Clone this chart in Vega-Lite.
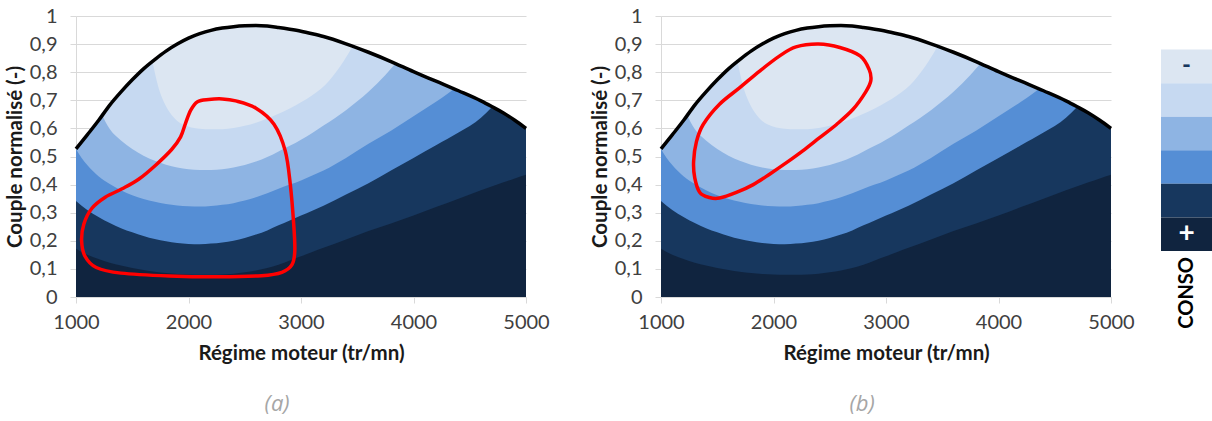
{
  "$schema": "https://vega.github.io/schema/vega-lite/v6.json",
  "padding": {"left": 5, "top": 6, "right": 0, "bottom": 0},
  "background": "white",
  "datasets": {
    "max": [
      {"x":1000,"y":0.527},{"x":1100,"y":0.577},{"x":1200,"y":0.628},{"x":1300,"y":0.683},{"x":1400,"y":0.73},{"x":1500,"y":0.773},{"x":1600,"y":0.812},{"x":1700,"y":0.845},{"x":1800,"y":0.875},{"x":1900,"y":0.9},{"x":2000,"y":0.921},{"x":2100,"y":0.937},{"x":2200,"y":0.949},{"x":2300,"y":0.957},{"x":2400,"y":0.962},{"x":2500,"y":0.965},{"x":2600,"y":0.966},{"x":2700,"y":0.964},{"x":2800,"y":0.959},{"x":2900,"y":0.953},{"x":3000,"y":0.946},{"x":3100,"y":0.937},{"x":3200,"y":0.927},{"x":3400,"y":0.901},{"x":3600,"y":0.871},{"x":3800,"y":0.838},{"x":4000,"y":0.802},{"x":4200,"y":0.768},{"x":4400,"y":0.734},{"x":4600,"y":0.698},{"x":4700,"y":0.677},{"x":4800,"y":0.655},{"x":4900,"y":0.629},{"x":5000,"y":0.6}
    ],
    "bands": [
      {"band":5,"x":1000,"y":0.527,"y0":0.172},{"band":5,"x":1100,"y":0.577,"y0":0.15},{"band":5,"x":1200,"y":0.628,"y0":0.135},{"band":5,"x":1300,"y":0.683,"y0":0.122},{"band":5,"x":1400,"y":0.73,"y0":0.112},{"band":5,"x":1500,"y":0.773,"y0":0.103},{"band":5,"x":1600,"y":0.812,"y0":0.096},{"band":5,"x":1700,"y":0.845,"y0":0.09},{"band":5,"x":1800,"y":0.875,"y0":0.085},{"band":5,"x":1900,"y":0.9,"y0":0.082},{"band":5,"x":2000,"y":0.921,"y0":0.08},{"band":5,"x":2100,"y":0.937,"y0":0.079},{"band":5,"x":2200,"y":0.949,"y0":0.079},{"band":5,"x":2300,"y":0.957,"y0":0.08},{"band":5,"x":2400,"y":0.962,"y0":0.083},{"band":5,"x":2500,"y":0.965,"y0":0.088},{"band":5,"x":2600,"y":0.966,"y0":0.094},{"band":5,"x":2700,"y":0.964,"y0":0.103},{"band":5,"x":2800,"y":0.959,"y0":0.115},{"band":5,"x":2900,"y":0.953,"y0":0.13},{"band":5,"x":3000,"y":0.946,"y0":0.145},{"band":5,"x":3100,"y":0.937,"y0":0.16},{"band":5,"x":3200,"y":0.927,"y0":0.175},{"band":5,"x":3400,"y":0.901,"y0":0.205},{"band":5,"x":3600,"y":0.871,"y0":0.235},{"band":5,"x":3800,"y":0.838,"y0":0.262},{"band":5,"x":4000,"y":0.802,"y0":0.29},{"band":5,"x":4200,"y":0.768,"y0":0.32},{"band":5,"x":4400,"y":0.734,"y0":0.35},{"band":5,"x":4600,"y":0.698,"y0":0.38},{"band":5,"x":4700,"y":0.677,"y0":0.394},{"band":5,"x":4800,"y":0.655,"y0":0.408},{"band":5,"x":4900,"y":0.629,"y0":0.422},{"band":5,"x":5000,"y":0.6,"y0":0.435},

      {"band":4,"x":1000,"y":0.527,"y0":0.342},{"band":4,"x":1100,"y":0.577,"y0":0.31},{"band":4,"x":1200,"y":0.628,"y0":0.285},{"band":4,"x":1300,"y":0.683,"y0":0.263},{"band":4,"x":1400,"y":0.73,"y0":0.245},{"band":4,"x":1500,"y":0.773,"y0":0.23},{"band":4,"x":1600,"y":0.812,"y0":0.217},{"band":4,"x":1700,"y":0.845,"y0":0.206},{"band":4,"x":1800,"y":0.875,"y0":0.198},{"band":4,"x":1900,"y":0.9,"y0":0.192},{"band":4,"x":2000,"y":0.921,"y0":0.189},{"band":4,"x":2100,"y":0.937,"y0":0.188},{"band":4,"x":2200,"y":0.949,"y0":0.19},{"band":4,"x":2300,"y":0.957,"y0":0.194},{"band":4,"x":2400,"y":0.962,"y0":0.2},{"band":4,"x":2500,"y":0.965,"y0":0.21},{"band":4,"x":2600,"y":0.966,"y0":0.222},{"band":4,"x":2700,"y":0.964,"y0":0.237},{"band":4,"x":2800,"y":0.959,"y0":0.255},{"band":4,"x":2900,"y":0.953,"y0":0.272},{"band":4,"x":3000,"y":0.946,"y0":0.29},{"band":4,"x":3100,"y":0.937,"y0":0.307},{"band":4,"x":3200,"y":0.927,"y0":0.325},{"band":4,"x":3400,"y":0.901,"y0":0.365},{"band":4,"x":3600,"y":0.871,"y0":0.405},{"band":4,"x":3800,"y":0.838,"y0":0.45},{"band":4,"x":4000,"y":0.802,"y0":0.495},{"band":4,"x":4200,"y":0.768,"y0":0.54},{"band":4,"x":4400,"y":0.734,"y0":0.585},{"band":4,"x":4600,"y":0.698,"y0":0.638},{"band":4,"x":4700,"y":0.677,"y0":0.677},

      {"band":3,"x":1000,"y":0.527,"y0":0.527},{"band":3,"x":1050,"y":0.552,"y0":0.495},{"band":3,"x":1100,"y":0.577,"y0":0.47},{"band":3,"x":1200,"y":0.628,"y0":0.43},{"band":3,"x":1300,"y":0.683,"y0":0.402},{"band":3,"x":1400,"y":0.73,"y0":0.38},{"band":3,"x":1500,"y":0.773,"y0":0.362},{"band":3,"x":1600,"y":0.812,"y0":0.349},{"band":3,"x":1700,"y":0.845,"y0":0.339},{"band":3,"x":1800,"y":0.875,"y0":0.331},{"band":3,"x":1900,"y":0.9,"y0":0.326},{"band":3,"x":2000,"y":0.921,"y0":0.323},{"band":3,"x":2100,"y":0.937,"y0":0.322},{"band":3,"x":2200,"y":0.949,"y0":0.324},{"band":3,"x":2300,"y":0.957,"y0":0.328},{"band":3,"x":2400,"y":0.962,"y0":0.334},{"band":3,"x":2500,"y":0.965,"y0":0.343},{"band":3,"x":2600,"y":0.966,"y0":0.355},{"band":3,"x":2700,"y":0.964,"y0":0.369},{"band":3,"x":2800,"y":0.959,"y0":0.385},{"band":3,"x":2900,"y":0.953,"y0":0.4},{"band":3,"x":3000,"y":0.946,"y0":0.415},{"band":3,"x":3100,"y":0.937,"y0":0.432},{"band":3,"x":3200,"y":0.927,"y0":0.45},{"band":3,"x":3400,"y":0.901,"y0":0.495},{"band":3,"x":3600,"y":0.871,"y0":0.545},{"band":3,"x":3800,"y":0.838,"y0":0.592},{"band":3,"x":4000,"y":0.802,"y0":0.643},{"band":3,"x":4200,"y":0.768,"y0":0.695},{"band":3,"x":4300,"y":0.751,"y0":0.722},{"band":3,"x":4360,"y":0.741,"y0":0.741},

      {"band":2,"x":1234,"y":0.646,"y0":0.646},{"band":2,"x":1260,"y":0.66,"y0":0.625},{"band":2,"x":1300,"y":0.683,"y0":0.598},{"band":2,"x":1400,"y":0.73,"y0":0.557},{"band":2,"x":1500,"y":0.773,"y0":0.527},{"band":2,"x":1600,"y":0.812,"y0":0.503},{"band":2,"x":1700,"y":0.845,"y0":0.485},{"band":2,"x":1800,"y":0.875,"y0":0.471},{"band":2,"x":1900,"y":0.9,"y0":0.461},{"band":2,"x":2000,"y":0.921,"y0":0.455},{"band":2,"x":2100,"y":0.937,"y0":0.452},{"band":2,"x":2200,"y":0.949,"y0":0.452},{"band":2,"x":2300,"y":0.957,"y0":0.455},{"band":2,"x":2400,"y":0.962,"y0":0.461},{"band":2,"x":2500,"y":0.965,"y0":0.47},{"band":2,"x":2600,"y":0.966,"y0":0.482},{"band":2,"x":2700,"y":0.964,"y0":0.498},{"band":2,"x":2800,"y":0.959,"y0":0.518},{"band":2,"x":2900,"y":0.953,"y0":0.538},{"band":2,"x":3000,"y":0.946,"y0":0.56},{"band":2,"x":3100,"y":0.937,"y0":0.584},{"band":2,"x":3200,"y":0.927,"y0":0.61},{"band":2,"x":3400,"y":0.901,"y0":0.665},{"band":2,"x":3600,"y":0.871,"y0":0.73},{"band":2,"x":3750,"y":0.847,"y0":0.79},{"band":2,"x":3840,"y":0.831,"y0":0.831},

      {"band":1,"x":1680,"y":0.838,"y0":0.838},{"band":1,"x":1700,"y":0.845,"y0":0.8},{"band":1,"x":1730,"y":0.855,"y0":0.75},{"band":1,"x":1780,"y":0.869,"y0":0.695},{"band":1,"x":1850,"y":0.888,"y0":0.648},{"band":1,"x":1950,"y":0.911,"y0":0.614},{"band":1,"x":2100,"y":0.937,"y0":0.599},{"band":1,"x":2200,"y":0.949,"y0":0.597},{"band":1,"x":2300,"y":0.957,"y0":0.597},{"band":1,"x":2400,"y":0.962,"y0":0.601},{"band":1,"x":2500,"y":0.965,"y0":0.609},{"band":1,"x":2600,"y":0.966,"y0":0.62},{"band":1,"x":2700,"y":0.964,"y0":0.635},{"band":1,"x":2800,"y":0.959,"y0":0.652},{"band":1,"x":2900,"y":0.953,"y0":0.671},{"band":1,"x":3000,"y":0.946,"y0":0.693},{"band":1,"x":3100,"y":0.937,"y0":0.718},{"band":1,"x":3250,"y":0.921,"y0":0.77},{"band":1,"x":3380,"y":0.904,"y0":0.84},{"band":1,"x":3460,"y":0.892,"y0":0.892}
    ],
    "loopA": [
      {"i":1,"x":2180,"y":0.703},{"i":2,"x":2300,"y":0.705},{"i":3,"x":2420,"y":0.698},{"i":4,"x":2600,"y":0.672},{"i":5,"x":2760,"y":0.615},{"i":6,"x":2860,"y":0.52},{"i":7,"x":2905,"y":0.4},{"i":8,"x":2935,"y":0.26},{"i":9,"x":2945,"y":0.165},{"i":10,"x":2920,"y":0.115},{"i":11,"x":2830,"y":0.088},{"i":12,"x":2650,"y":0.076},{"i":13,"x":2270,"y":0.072},{"i":14,"x":1830,"y":0.075},{"i":15,"x":1400,"y":0.085},{"i":16,"x":1180,"y":0.105},{"i":17,"x":1080,"y":0.145},{"i":18,"x":1050,"y":0.2},{"i":19,"x":1070,"y":0.26},{"i":20,"x":1140,"y":0.315},{"i":21,"x":1260,"y":0.355},{"i":22,"x":1410,"y":0.385},{"i":23,"x":1560,"y":0.42},{"i":24,"x":1710,"y":0.47},{"i":25,"x":1850,"y":0.525},{"i":26,"x":1930,"y":0.57},{"i":27,"x":1975,"y":0.62},{"i":28,"x":2020,"y":0.665},{"i":29,"x":2080,"y":0.695}
    ],
    "loopB": [
      {"i":1,"x":2400,"y":0.9},{"i":2,"x":2590,"y":0.888},{"i":3,"x":2770,"y":0.858},{"i":4,"x":2850,"y":0.81},{"i":5,"x":2865,"y":0.77},{"i":6,"x":2820,"y":0.73},{"i":7,"x":2707,"y":0.668},{"i":8,"x":2560,"y":0.614},{"i":9,"x":2410,"y":0.567},{"i":10,"x":2260,"y":0.52},{"i":11,"x":2115,"y":0.478},{"i":12,"x":1965,"y":0.437},{"i":13,"x":1820,"y":0.4},{"i":14,"x":1670,"y":0.372},{"i":15,"x":1520,"y":0.352},{"i":16,"x":1430,"y":0.354},{"i":17,"x":1345,"y":0.372},{"i":18,"x":1300,"y":0.424},{"i":19,"x":1290,"y":0.483},{"i":20,"x":1315,"y":0.553},{"i":21,"x":1375,"y":0.614},{"i":22,"x":1520,"y":0.686},{"i":23,"x":1700,"y":0.745},{"i":24,"x":1877,"y":0.804},{"i":25,"x":2055,"y":0.858},{"i":26,"x":2200,"y":0.89}
    ],
    "legend": [
      {"level":"1","sign":"-"},{"level":"2","sign":""},{"level":"3","sign":""},{"level":"4","sign":""},{"level":"5","sign":""},{"level":"6","sign":"+"}
    ]
  },
  "hconcat": [
    {
      "hconcat": [
        {
          "width": 450, "height": 281,
          "title": {"text": "(a)", "orient": "bottom", "frame": "bounds", "anchor": "middle", "fontSize": 22, "fontStyle": "italic", "fontWeight": "normal", "color": "#a6a6a6", "offset": 30, "font": "Open Sans"},
          "encoding": {
            "x": {"field": "x", "type": "quantitative", "scale": {"domain": [1000, 5000], "nice": false}, "axis": {"values": [1000, 2000, 3000, 4000, 5000], "format": "d", "title": "Régime moteur (tr/mn)"}},
            "y": {"field": "y", "type": "quantitative", "scale": {"domain": [0, 1], "nice": false}, "axis": {"values": [0, 0.1, 0.2, 0.3, 0.4, 0.5, 0.6, 0.7, 0.8, 0.9, 1], "labelExpr": "replace(format(datum.value, '.1~f'), '.', ',')", "title": "Couple normalisé (-)"}}
          },
          "layer": [
            {"data": {"name": "max"}, "mark": {"type": "area", "interpolate": "monotone", "color": "#10243f"}},
            {"data": {"name": "bands"}, "transform": [{"filter": "datum.band == 5"}], "mark": {"type": "area", "interpolate": "monotone", "color": "#17375e"}, "encoding": {"y2": {"field": "y0"}}},
            {"data": {"name": "bands"}, "transform": [{"filter": "datum.band == 4"}], "mark": {"type": "area", "interpolate": "monotone", "color": "#558ed5"}, "encoding": {"y2": {"field": "y0"}}},
            {"data": {"name": "bands"}, "transform": [{"filter": "datum.band == 3"}], "mark": {"type": "area", "interpolate": "monotone", "color": "#8eb4e3"}, "encoding": {"y2": {"field": "y0"}}},
            {"data": {"name": "bands"}, "transform": [{"filter": "datum.band == 2"}], "mark": {"type": "area", "interpolate": "monotone", "color": "#c6d9f1"}, "encoding": {"y2": {"field": "y0"}}},
            {"data": {"name": "bands"}, "transform": [{"filter": "datum.band == 1"}], "mark": {"type": "area", "interpolate": "monotone", "color": "#dce6f2"}, "encoding": {"y2": {"field": "y0"}}},
            {"data": {"name": "max"}, "mark": {"type": "line", "interpolate": "monotone", "color": "#000000", "strokeWidth": 3.5}},
            {"data": {"name": "loopA"}, "mark": {"type": "line", "interpolate": "cardinal-closed", "color": "#ff0000", "strokeWidth": 3.5}, "encoding": {"order": {"field": "i", "type": "quantitative"}}}
          ]
        },
        {
          "width": 450, "height": 281,
          "title": {"text": "(b)", "orient": "bottom", "frame": "bounds", "anchor": "middle", "fontSize": 22, "fontStyle": "italic", "fontWeight": "normal", "color": "#a6a6a6", "offset": 30, "font": "Open Sans"},
          "encoding": {
            "x": {"field": "x", "type": "quantitative", "scale": {"domain": [1000, 5000], "nice": false}, "axis": {"values": [1000, 2000, 3000, 4000, 5000], "format": "d", "title": "Régime moteur (tr/mn)"}},
            "y": {"field": "y", "type": "quantitative", "scale": {"domain": [0, 1], "nice": false}, "axis": {"values": [0, 0.1, 0.2, 0.3, 0.4, 0.5, 0.6, 0.7, 0.8, 0.9, 1], "labelExpr": "replace(format(datum.value, '.1~f'), '.', ',')", "title": "Couple normalisé (-)"}}
          },
          "layer": [
            {"data": {"name": "max"}, "mark": {"type": "area", "interpolate": "monotone", "color": "#10243f"}},
            {"data": {"name": "bands"}, "transform": [{"filter": "datum.band == 5"}], "mark": {"type": "area", "interpolate": "monotone", "color": "#17375e"}, "encoding": {"y2": {"field": "y0"}}},
            {"data": {"name": "bands"}, "transform": [{"filter": "datum.band == 4"}], "mark": {"type": "area", "interpolate": "monotone", "color": "#558ed5"}, "encoding": {"y2": {"field": "y0"}}},
            {"data": {"name": "bands"}, "transform": [{"filter": "datum.band == 3"}], "mark": {"type": "area", "interpolate": "monotone", "color": "#8eb4e3"}, "encoding": {"y2": {"field": "y0"}}},
            {"data": {"name": "bands"}, "transform": [{"filter": "datum.band == 2"}], "mark": {"type": "area", "interpolate": "monotone", "color": "#c6d9f1"}, "encoding": {"y2": {"field": "y0"}}},
            {"data": {"name": "bands"}, "transform": [{"filter": "datum.band == 1"}], "mark": {"type": "area", "interpolate": "monotone", "color": "#dce6f2"}, "encoding": {"y2": {"field": "y0"}}},
            {"data": {"name": "max"}, "mark": {"type": "line", "interpolate": "monotone", "color": "#000000", "strokeWidth": 3.5}},
            {"data": {"name": "loopB"}, "mark": {"type": "line", "interpolate": "cardinal-closed", "color": "#ff0000", "strokeWidth": 3.5}, "encoding": {"order": {"field": "i", "type": "quantitative"}}}
          ]
        }
      ],
      "spacing": 135,
      "bounds": "flush"
    },
    {
      "width": 51, "height": 235,
      "data": {"name": "legend"},
      "title": {"text": "CONSO", "orient": "bottom", "angle": 270, "align": "right", "baseline": "middle", "anchor": "middle", "fontSize": 20, "fontWeight": "bold", "color": "#000000", "offset": 6},
      "encoding": {
        "y": {"field": "level", "type": "ordinal", "scale": {"domain": ["0", "1", "2", "3", "4", "5", "6"], "paddingInner": 0, "paddingOuter": 0}, "axis": null}
      },
      "layer": [
        {"mark": {"type": "rect"}, "encoding": {
          "x": {"datum": 0, "type": "quantitative", "scale": {"domain": [0, 1]}, "axis": null},
          "x2": {"datum": 1},
          "color": {"field": "level", "type": "ordinal", "scale": {"domain": ["1", "2", "3", "4", "5", "6"], "range": ["#dce6f2", "#c6d9f1", "#8eb4e3", "#558ed5", "#17375e", "#10243f"]}, "legend": null}
        }},
        {"transform": [{"filter": "datum.level == '1'"}], "mark": {"type": "text", "fontSize": 24, "fontWeight": "bold", "color": "#17375e"}, "encoding": {"x": {"datum": 0.5, "type": "quantitative"}, "text": {"field": "sign"}}},
        {"transform": [{"filter": "datum.level == '6'"}], "mark": {"type": "text", "fontSize": 28, "fontWeight": "bold", "color": "#ffffff"}, "encoding": {"x": {"datum": 0.5, "type": "quantitative"}, "text": {"field": "sign"}}}
      ]
    }
  ],
  "spacing": 26,
  "bounds": "full",
  "config": {
    "font": "Lato",
    "view": {"stroke": null},
    "axis": {"labelFontSize": 20, "labelColor": "#404040", "labelFlush": false, "labelOverlap": false, "titleFontSize": 20.5, "titleFontWeight": "bold", "titleColor": "#1a1a1a", "domainColor": "#d9d9d9", "tickColor": "#d9d9d9", "gridColor": "#d9d9d9"},
    "axisX": {"grid": false, "tickSize": 6, "labelPadding": 9, "titlePadding": 11},
    "axisY": {"grid": true, "tickSize": 6, "labelPadding": 13, "titlePadding": 4, "minExtent": 47, "maxExtent": 47}
  }
}
